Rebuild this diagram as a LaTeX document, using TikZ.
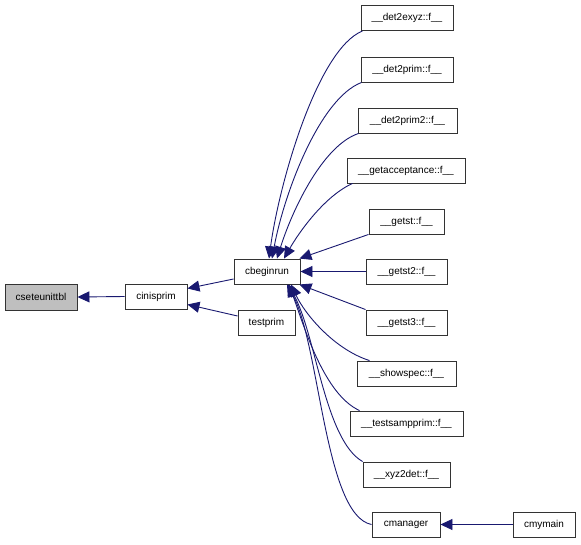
\documentclass[tikz,border=0pt]{standalone}
\usepackage{fontspec}
\setmainfont{Liberation Sans}
\usetikzlibrary{arrows.meta}
\definecolor{edgeblue}{RGB}{25,25,112}
\definecolor{boxgray}{RGB}{191,191,191}
\begin{document}
\begin{tikzpicture}[x=1pt,y=-1pt,
  box/.style={draw=black!80,line width=0.9pt,fill=white,inner sep=0pt,minimum height=25pt,font=\fontsize{10}{12}\selectfont},
  edge/.style={draw=edgeblue,line width=0.9pt,-{Triangle[length=12pt,width=11pt]}}]
\useasboundingbox (0,0) rectangle (581,544);
\node[box,fill=boxgray,minimum width=72pt,minimum height=26pt] (cset) at (41,297) {cseteunittbl};
\node[box,minimum width=62pt] (cini) at (156,296.5) {cinisprim};
\node[box,minimum width=66pt] (cbeg) at (267,271.5) {cbeginrun};
\node[box,minimum width=57pt] (test) at (266.5,322.5) {testprim};
\node[box,minimum width=92pt] (d2e) at (407,18) {\_\_det2exyz::f\_\_};
\node[box,minimum width=92pt] (d2p) at (407,69.5) {\_\_det2prim::f\_\_};
\node[box,minimum width=99pt] (d2p2) at (407.5,120.5) {\_\_det2prim2::f\_\_};
\node[box,minimum width=118pt] (gacc) at (406,170.5) {\_\_getacceptance::f\_\_};
\node[box,minimum width=75pt] (gst) at (406.5,221.5) {\_\_getst::f\_\_};
\node[box,minimum width=81pt] (gst2) at (406.5,271.5) {\_\_getst2::f\_\_};
\node[box,minimum width=81pt] (gst3) at (406.5,322.5) {\_\_getst3::f\_\_};
\node[box,minimum width=99pt] (show) at (406.5,373.5) {\_\_showspec::f\_\_};
\node[box,minimum width=113pt] (tsp) at (406.5,423.5) {\_\_testsampprim::f\_\_};
\node[box,minimum width=87pt] (xyz) at (406.5,474.5) {\_\_xyz2det::f\_\_};
\node[box,minimum width=68pt] (cman) at (406,524.5) {cmanager};
\node[box,minimum width=62pt] (cmy) at (544,524.5) {cmymain};
% edges
\draw[edge] (cini.west) -- (cset.east);
\draw[edge] ([yshift=-7.5pt]cbeg.west) -- ([yshift=8pt]cini.east);
\draw[edge] ([yshift=6.5pt]test.west) -- ([yshift=-8pt]cini.east);
\draw[edge] ([xshift=2pt]d2e.south west) .. controls +(-45,18) and +(10,-75) .. ([xshift=2pt]cbeg.north);
\draw[edge] ([xshift=1pt]d2p.south west) .. controls +(-42,16) and +(12,-65) .. ([xshift=5pt]cbeg.north);
\draw[edge] ([xshift=1pt]d2p2.south west) .. controls +(-36,12) and +(15,-48) .. ([xshift=10pt]cbeg.north);
\draw[edge] ([xshift=6pt]gacc.south west) .. controls +(-27,12) and +(16,-28) .. ([xshift=17pt]cbeg.north);
\draw[edge] (gst.south west) -- ([xshift=-1pt]cbeg.north east);
\draw[edge] (gst2.west) -- (cbeg.east);
\draw[edge] (gst3.north west) -- ([xshift=-1pt]cbeg.south east);
\draw[edge] ([xshift=13pt]show.north west) .. controls +(-35,-11) and +(14,30) .. ([xshift=24pt]cbeg.south);
\draw[edge] ([xshift=10pt]tsp.north west) .. controls +(-35,-16) and +(16,45) .. ([xshift=22pt]cbeg.south);
\draw[edge] (xyz.north west) .. controls +(-38,-22) and +(28,50) .. ([xshift=21pt]cbeg.south);
\draw[edge] (cman.west) .. controls +(-47,-9) and +(33,60) .. ([xshift=20pt]cbeg.south);
\draw[edge] (cmy.west) -- (cman.east);
\end{tikzpicture}
\end{document}
